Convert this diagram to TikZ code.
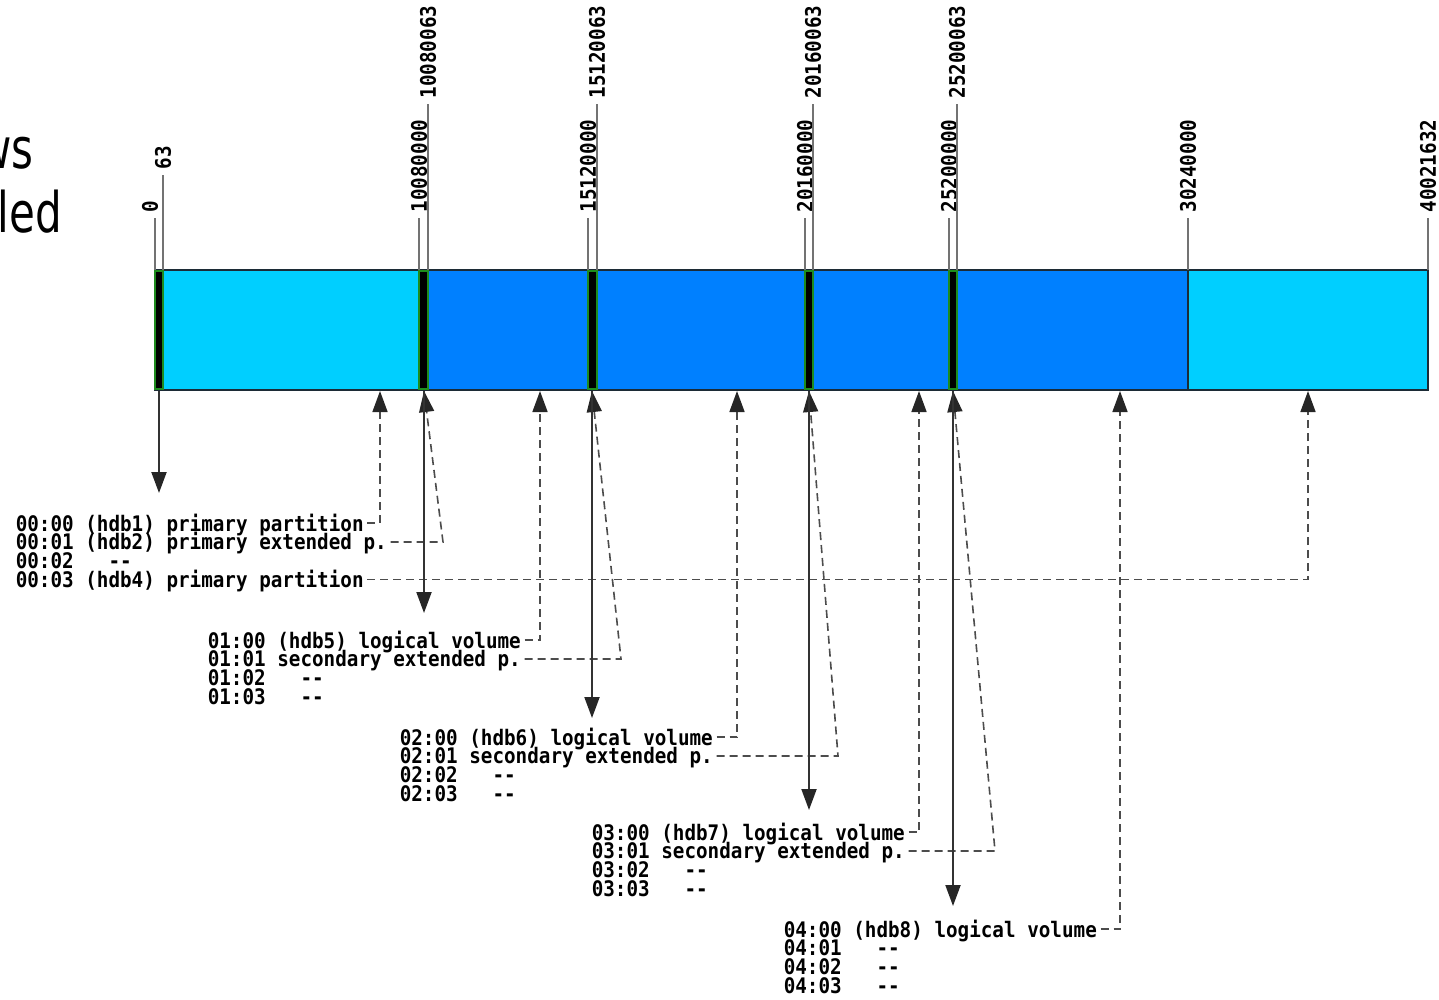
\documentclass[tikz,border=0pt]{standalone}
\usepackage{fontspec}
\newfontfamily\headfont{DejaVu Sans}
\newfontfamily\sectfont{DejaVu Sans Mono}
\usepackage{xcolor}
\definecolor{extCyan}{HTML}{00CFFF}
\definecolor{logBlue}{HTML}{0080FF}
\definecolor{ebrGreen}{HTML}{1E8C1E}
\definecolor{barEdge}{HTML}{1C2B36}
\definecolor{tickGray}{gray}{0.45}
\definecolor{linkGray}{gray}{0.3}
\usetikzlibrary{arrows.meta}

\begin{document}
\begin{tikzpicture}[x=1pt, y=-1pt,
    >={Triangle[length=21pt,width=15pt,color=black!85]},
    mono/.style={font=\sectfont\bfseries\fontsize{21.4}{21.4}\selectfont},
    heading/.style={font=\headfont\fontsize{56}{60}\selectfont, anchor=base east, inner sep=0pt, xscale=0.75, transform shape},
    entry/.style={mono, anchor=base west, inner xsep=4pt, inner ysep=0pt, text height=15.6pt, text depth=0pt, xscale=0.9, transform shape},
    sector/.style={mono, rotate=90, xscale=0.9, transform shape, anchor=west, inner xsep=6pt, inner ysep=0pt},
    tick/.style={tickGray, line width=1.8pt},
    link/.style={linkGray, line width=1.6pt, dash pattern=on 8pt off 5pt, ->},
    jump/.style={black!80, line width=2pt, ->},
    ebr/.style={fill=black, draw=ebrGreen, line width=1.5pt}]
  \useasboundingbox (0,0) rectangle (1439,999);
  % heading, cut off by the page edge
  \node[heading] (hws) at (34,168) {ws};
  \node[heading] (hled) at (62,232) {led};
  % the disk
  \fill[extCyan] (155,270) rectangle (1428,390);
  \fill[logBlue] (428,270) rectangle (1188,390);
  \draw[barEdge, line width=2pt] (155,270) rectangle (1428,390);
  \draw[barEdge, line width=1.6pt] (1188,270) -- (1188,390);
  % partition tables
  \foreach \a/\b in {155/163, 419/428, 588/597, 805/813, 949/957}
    \filldraw[ebr] (\a,271) rectangle (\b,389);
  % sector numbers
  \coordinate (bs0) at (155,270);
  \node[sector] (s0) at (150,218) {0};
  \draw[tick] (s0.west -| bs0) -- (bs0);
  \foreach \nm/\x/\y/\lab in {s63/163/175/63, s1a/419/218/10080000, s1b/428/104/10080063,
      s2a/588/218/15120000, s2b/597/104/15120063, s3a/805/218/20160000, s3b/813/104/20160063,
      s4a/949/218/25200000, s4b/957/104/25200063, s5/1188/218/30240000, s6/1428/218/40021632} {
    \coordinate (b\nm) at (\x,270);
    \node[sector] (\nm) at (\x,\y) {\lab};
    \draw[tick] (\nm.west) -- (b\nm);
  }
  % arrow ends on the bottom of the disk
  \coordinate (m0) at (159,391);
  \coordinate (m1) at (424,391);
  \coordinate (m2) at (592,391);
  \coordinate (m3) at (809,391);
  \coordinate (m4) at (953,391);
  \coordinate (u0) at (380,391);
  \coordinate (u1) at (540,391);
  \coordinate (u2) at (737,391);
  \coordinate (u3) at (919,391);
  \coordinate (u4) at (1120,391);
  \coordinate (u5) at (1308,391);
  \coordinate (k0) at (443,0);
  \coordinate (k1) at (621,0);
  \coordinate (k2) at (838,0);
  \coordinate (k3) at (995,0);
  % tables
  \node[entry] (p00) at (12,531) {00:00 (hdb1) primary partition};
  \node[entry] (p01) at (12,549.8) {00:01 (hdb2) primary extended p.};
  \node[entry] (p02) at (12,568.6) {00:02\phantom{000}--};
  \node[entry] (p03) at (12,587.4) {00:03 (hdb4) primary partition};
  \node[entry] (p10) at (204,648) {01:00 (hdb5) logical volume};
  \node[entry] (p11) at (204,666.8) {01:01 secondary extended p.};
  \node[entry] (p12) at (204,685.6) {01:02\phantom{000}--};
  \node[entry] (p13) at (204,704.4) {01:03\phantom{000}--};
  \node[entry] (p20) at (396,745) {02:00 (hdb6) logical volume};
  \node[entry] (p21) at (396,763.8) {02:01 secondary extended p.};
  \node[entry] (p22) at (396,782.6) {02:02\phantom{000}--};
  \node[entry] (p23) at (396,801.4) {02:03\phantom{000}--};
  \node[entry] (p30) at (588,840) {03:00 (hdb7) logical volume};
  \node[entry] (p31) at (588,858.8) {03:01 secondary extended p.};
  \node[entry] (p32) at (588,877.6) {03:02\phantom{000}--};
  \node[entry] (p33) at (588,896.4) {03:03\phantom{000}--};
  \node[entry] (p40) at (780,937) {04:00 (hdb8) logical volume};
  \node[entry] (p41) at (780,955.8) {04:01\phantom{000}--};
  \node[entry] (p42) at (780,974.6) {04:02\phantom{000}--};
  \node[entry] (p43) at (780,993.4) {04:03\phantom{000}--};
  \coordinate (d0) at (159,493);
  \coordinate (d1) at (424,613);
  \coordinate (d2) at (592,718);
  \coordinate (d3) at (809,810);
  \coordinate (d4) at (953,906);
  % entries point back at the disk
  \draw[link] (p00.east) -| (u0);
  \draw[link] (p01.east) -- (p01.east -| k0) -- (m1);
  \draw[link] (p03.east) -| (u5);
  \draw[link] (p10.east) -| (u1);
  \draw[link] (p11.east) -- (p11.east -| k1) -- (m2);
  \draw[link] (p20.east) -| (u2);
  \draw[link] (p21.east) -- (p21.east -| k2) -- (m3);
  \draw[link] (p30.east) -| (u3);
  \draw[link] (p31.east) -- (p31.east -| k3) -- (m4);
  \draw[link] (p40.east) -| (u4);
  % each table read from its sector
  \draw[jump] (m0) -- (d0);
  \draw[jump] (m1) -- (d1);
  \draw[jump] (m2) -- (d2);
  \draw[jump] (m3) -- (d3);
  \draw[jump] (m4) -- (d4);
\end{tikzpicture}
\end{document}
